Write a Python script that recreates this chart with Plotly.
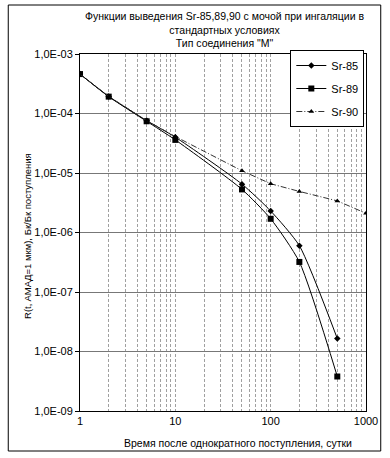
import plotly.graph_objects as go

days_85 = [1, 2, 5, 10, 50, 100, 200, 500]
sr85 = [4.6e-4, 1.94e-4, 7.6e-5, 4.0e-5, 6.5e-6, 2.3e-6, 6.0e-7, 1.65e-8]
days_89 = [1, 2, 5, 10, 50, 100, 200, 500]
sr89 = [4.6e-4, 1.92e-4, 7.4e-5, 3.6e-5, 5.3e-6, 1.7e-6, 3.2e-7, 3.8e-9]
days_90 = [1, 2, 5, 10, 50, 100, 200, 500, 1000]
sr90 = [4.6e-4, 1.94e-4, 7.6e-5, 4.1e-5, 1.09e-5, 6.6e-6, 4.9e-6, 3.4e-6, 2.1e-6]

y_tickvals = [1e-3, 1e-4, 1e-5, 1e-6, 1e-7, 1e-8, 1e-9]
y_ticktext = ["1,0E-03", "1,0E-04", "1,0E-05", "1,0E-06", "1,0E-07", "1,0E-08", "1,0E-09"]

x_tickvals = []
x_ticktext = []
for dec in [1, 10, 100]:
    for m in range(1, 10):
        v = dec * m
        x_tickvals.append(v)
        x_ticktext.append(str(v) if m == 1 else "")
x_tickvals.append(1000)
x_ticktext.append("1000")

FONT = "Liberation Sans, Arial, sans-serif"

fig = go.Figure()
fig.add_trace(go.Scatter(x=days_85, y=sr85, name="Sr-85", mode="lines+markers",
                         line=dict(color="black", width=1, shape="spline", smoothing=0.6),
                         marker=dict(symbol="diamond", size=5, color="black"),
                         legendgroup="g85"))
fig.add_trace(go.Scatter(x=days_89, y=sr89, name="Sr-89", mode="lines+markers",
                         line=dict(color="black", width=1, shape="spline", smoothing=0.6),
                         marker=dict(symbol="square", size=6, color="black"),
                         legendgroup="g89"))
fig.add_trace(go.Scatter(x=days_90, y=sr90, name="Sr-90", mode="lines+markers",
                         line=dict(color="#333", width=1, dash="6px,2px,1px,2px"),
                         marker=dict(symbol="triangle-up", size=5, color="black"),
                         legendgroup="g90"))

W, H = 390, 458
L, R, T, B = 80, 19, 54, 47
pw, ph = W - L - R, H - T - B

def px_x(x):
    return (x - L) / pw

def px_y(y):
    return (H - B - y) / ph

fig.update_layout(
    width=W, height=H,
    margin=dict(l=L, r=R, t=T, b=B),
    paper_bgcolor="white", plot_bgcolor="white",
    font=dict(family=FONT, size=11, color="black"),
    showlegend=True,
    legend=dict(x=px_x(294), y=px_y(50), xanchor="left", yanchor="top",
                bgcolor="white", bordercolor="black", borderwidth=1,
                font=dict(size=11), itemwidth=30, traceorder="grouped", tracegroupgap=4),
    xaxis=dict(type="log", range=[0, 3], tickvals=x_tickvals, ticktext=x_ticktext,
               ticks="", showgrid=True, gridcolor="#a0a0a0", gridwidth=1, griddash="3px,2px",
               showline=True, linecolor="black", linewidth=1, mirror=True,
               tickfont=dict(size=11), zeroline=False),
    yaxis=dict(type="log", range=[-9, -3], tickvals=y_tickvals, ticktext=y_ticktext,
               ticks="outside", ticklen=4, tickcolor="black",
               showgrid=True, gridcolor="#777", gridwidth=1,
               showline=True, linecolor="black", linewidth=1, mirror=True,
               tickfont=dict(size=11), zeroline=False),
    shapes=[dict(type="rect", xref="paper", yref="paper",
                 x0=px_x(7), x1=px_x(386), y0=px_y(451), y1=px_y(5),
                 line=dict(color="black", width=1), fillcolor="rgba(0,0,0,0)", layer="above")],
    annotations=[
        dict(text="Функции выведения Sr-85,89,90 с мочой при ингаляции в<br>стандартных условиях<br>Тип соединения \"M\"",
             xref="paper", yref="paper", x=px_x(227), y=px_y(8), xanchor="center", yanchor="top",
             showarrow=False, font=dict(size=10.5), align="center"),
        dict(text="Время после однократного поступления, сутки",
             xref="paper", yref="paper", x=px_x(241), y=px_y(443), xanchor="center", yanchor="middle",
             showarrow=False, font=dict(size=10.5)),
        dict(text="R(t, AMAД=1 мкм), Бк/Бк поступления",
             xref="paper", yref="paper", x=px_x(26), y=px_y(236), xanchor="center", yanchor="middle",
             textangle=-90, showarrow=False, font=dict(size=9.5)),
    ],
)

fig.write_html("out.html", config={"displayModeBar": False},
               post_script="document.body.style.margin='0';document.body.style.padding='0';")
